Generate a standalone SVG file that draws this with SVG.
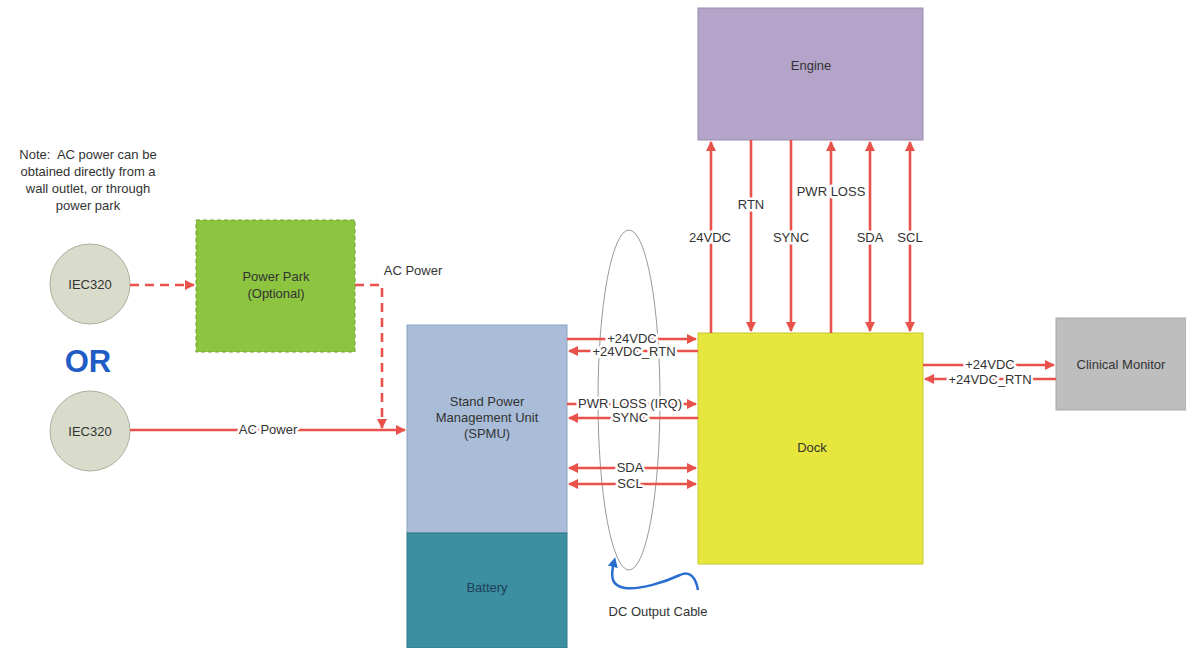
<svg xmlns="http://www.w3.org/2000/svg" width="1186" height="648" viewBox="0 0 1186 648">
<style>
text{font-family:"Liberation Sans",Arial,sans-serif;font-size:13px;fill:#333;text-anchor:middle}
.lbl{paint-order:stroke;stroke:#fff;stroke-width:5px;stroke-linejoin:round}
.w{stroke:#e9524a;stroke-width:2.6;fill:none}
.d{stroke:#e9524a;stroke-width:2.6;fill:none;stroke-dasharray:9 6}
</style>
<defs>
<marker id="ah" viewBox="0 0 10 10" refX="9" refY="5" markerWidth="4" markerHeight="4" orient="auto-start-reverse"><path d="M0,0L10,5L0,10z" fill="#e9524a"/></marker>
<marker id="bh" viewBox="0 0 10 10" refX="5" refY="5" markerWidth="4" markerHeight="4" orient="auto"><path d="M0,0L10,5L0,10z" fill="#2a6fd0"/></marker>
</defs>
<rect width="1186" height="648" fill="#fff"/>
<g id="note"><text x="88" y="159" xml:space="preserve">Note:  AC power can be</text><text x="88" y="176">obtained directly from a</text><text x="88" y="193">wall outlet, or through</text><text x="88" y="210">power park</text></g>
<g id="iec1"><circle cx="90" cy="284" r="40" fill="#d9dccb" stroke="#aab0a0"/><text x="90" y="289">IEC320</text></g>
<g id="or"><text x="88" y="372" style="font-size:31px;font-weight:bold;fill:#1f5cc4">OR</text></g>
<g id="iec2"><circle cx="90" cy="431" r="40" fill="#d9dccb" stroke="#aab0a0"/><text x="90" y="436">IEC320</text></g>
<g id="powerpark"><rect x="196" y="220" width="159" height="132" fill="#8dc540" stroke="#6aa030" stroke-dasharray="4 3"/><text x="276" y="281">Power Park</text><text x="276" y="298">(Optional)</text></g>
<g id="spmu"><rect x="407" y="325" width="160" height="208" fill="#a9bdd8" stroke="#8ea3c0"/><text x="487" y="406">Stand Power</text><text x="487" y="422">Management Unit</text><text x="487" y="438">(SPMU)</text></g>
<g id="battery"><rect x="407" y="533" width="160" height="115" fill="#3b8fa0" stroke="#2f7888"/><text x="487" y="592" style="fill:#1d3f5a">Battery</text></g>
<g id="engine"><rect x="698" y="8" width="225" height="132" fill="#b4a4c9" stroke="#9a8bb0"/><text x="811" y="70">Engine</text></g>
<g id="dock"><rect x="698" y="333" width="225" height="231" fill="#e6e63c" stroke="#c8c830"/><text x="812" y="452">Dock</text></g>
<g id="monitor"><rect x="1056" y="318" width="130" height="92" fill="#bebebe" stroke="#a8a8a8"/><text x="1121" y="369">Clinical Monitor</text></g>
<g id="cable"><ellipse cx="629" cy="400" rx="31" ry="170" fill="none" stroke="#9a9a9a" stroke-width="1"/>
<path d="M698,590 C696,578 690,570 680,575 C665,582 640,590 625,588 C612,586 610,578 614,562" fill="none" stroke="#2a6fd0" stroke-width="2.5" marker-end="url(#bh)"/>
<text x="658" y="616">DC Output Cable</text></g>
<g id="connectors">
<path class="d" d="M130,285H194" marker-end="url(#ah)"/>
<path class="d" d="M355,285H382V428" marker-end="url(#ah)"/>
<text x="413" y="275">AC Power</text>
<path class="w" d="M130,430H405" marker-end="url(#ah)"/>
<text class="lbl" x="268" y="434">AC Power</text>
<path class="w" d="M567,339H696" marker-end="url(#ah)"/>
<text class="lbl" x="632" y="343">+24VDC</text>
<path class="w" d="M698,351H569" marker-end="url(#ah)"/>
<text class="lbl" x="634" y="356">+24VDC_RTN</text>
<path class="w" d="M567,404H696" marker-end="url(#ah)"/>
<text class="lbl" x="630" y="408">PWR LOSS (IRQ)</text>
<path class="w" d="M698,418H569" marker-end="url(#ah)"/>
<text class="lbl" x="630" y="422">SYNC</text>
<path class="w" d="M569,468H696" marker-start="url(#ah)" marker-end="url(#ah)"/>
<text class="lbl" x="630" y="472">SDA</text>
<path class="w" d="M569,484H696" marker-start="url(#ah)" marker-end="url(#ah)"/>
<text class="lbl" x="630" y="488">SCL</text>
<path class="w" d="M923,365H1054" marker-end="url(#ah)"/>
<text class="lbl" x="990" y="369">+24VDC</text>
<path class="w" d="M1056,379H925" marker-end="url(#ah)"/>
<text class="lbl" x="990" y="384">+24VDC_RTN</text>
<path class="w" d="M711,333V142" marker-end="url(#ah)"/>
<text class="lbl" x="710" y="242">24VDC</text>
<path class="w" d="M751,140V331" marker-end="url(#ah)"/>
<text class="lbl" x="751" y="209">RTN</text>
<path class="w" d="M791,140V331" marker-end="url(#ah)"/>
<text class="lbl" x="791" y="242">SYNC</text>
<path class="w" d="M831,333V142" marker-end="url(#ah)"/>
<text class="lbl" x="831" y="196">PWR LOSS</text>
<path class="w" d="M870,142V331" marker-start="url(#ah)" marker-end="url(#ah)"/>
<text class="lbl" x="870" y="242">SDA</text>
<path class="w" d="M910,142V331" marker-start="url(#ah)" marker-end="url(#ah)"/>
<text class="lbl" x="910" y="242">SCL</text>
</g>
</svg>
